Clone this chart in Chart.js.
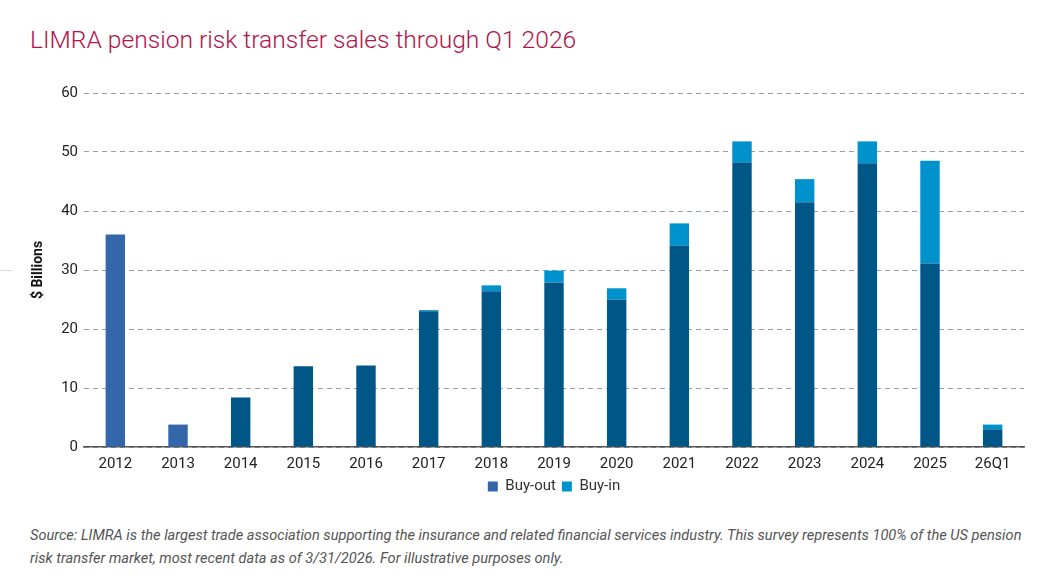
<!DOCTYPE html>
<html>
<head>
<meta charset="utf-8">
<script src="https://cdn.jsdelivr.net/npm/chart.js@4.4.1/dist/chart.umd.min.js"></script>
<style>
    body { margin: 0; background: #fff; width: 1051px; height: 585px; overflow: hidden; position: relative; font-family: Roboto, "Noto Sans", sans-serif; }
    #title { position: absolute; left: 30px; top: 25px; font-size: 24.6px; font-weight: 300; color: #b3124b; white-space: nowrap; }
    #chartBox { position: absolute; left: 0; top: 78px; width: 1051px; height: 426px; }
    #source { position: absolute; left: 30px; top: 524px; width: 998px; font-size: 14.6px; line-height: 23px; color: #555; font-style: italic; }
    #tick { position: absolute; left: 0; top: 270px; width: 13px; height: 1px; background: #ddd; }
</style>
</head>
<body>
<div id="title">LIMRA pension risk transfer sales through Q1 2026</div>
<div id="tick"></div>
<div id="chartBox"><canvas id="prtChart"></canvas></div>
<div id="source">Source: LIMRA is the largest trade association supporting the insurance and related financial services industry. This survey represents 100% of the US pension risk transfer market, most recent data as of 3/31/2026. For illustrative purposes only.</div>
<script>
const years = ['2012', '2013', '2014', '2015', '2016', '2017', '2018', '2019', '2020', '2021', '2022', '2023', '2024', '2025', '26Q1'];
const buyOut = [36.0, 3.8, 8.4, 13.7, 13.8, 23.0, 26.4, 27.9, 25.0, 34.1, 48.2, 41.5, 48.1, 31.1, 3.0];
const buyIn = [0, 0, 0, 0, 0, 0.2, 1.0, 2.0, 1.9, 3.8, 3.6, 3.9, 3.7, 17.4, 0.8];
const yTicks = [0, 10, 20, 30, 40, 50, 60];

// older years are drawn in the lighter buy-out blue
const lightBuyOut = '#3467a9';
const darkBuyOut = '#005686';
const buyInColor = '#0092cc';

document.addEventListener('DOMContentLoaded', function() {
    const ctx = document.getElementById('prtChart').getContext('2d');
    new Chart(ctx, {
        type: 'bar',
        data: {
            labels: years,
            datasets: [{
                label: 'Buy-out',
                data: buyOut,
                backgroundColor: function(c) {
                    if (c.dataIndex === undefined || c.dataIndex < 2) return lightBuyOut;
                    return darkBuyOut;
                },
                barPercentage: 0.31,
                categoryPercentage: 1
            }, {
                label: 'Buy-in',
                data: buyIn,
                backgroundColor: buyInColor,
                barPercentage: 0.31,
                categoryPercentage: 1
            }]
        },
        options: {
            responsive: true,
            maintainAspectRatio: false,
            animation: false,
            layout: { padding: { left: 30, right: 27, top: 8, bottom: 0 } },
            plugins: {
                tooltip: { enabled: false },
                legend: {
                    position: 'bottom',
                    fullSize: false,
                    labels: {
                        boxWidth: 10,
                        boxHeight: 10,
                        padding: 6,
                        color: '#333',
                        font: { family: 'Roboto', size: 15 }
                    }
                }
            },
            scales: {
                x: {
                    stacked: true,
                    grid: { display: false },
                    border: { display: true, color: '#555', width: 1.5 },
                    ticks: { color: '#222', font: { family: 'Roboto', size: 15 }, padding: 0 }
                },
                y: {
                    stacked: true,
                    min: 0,
                    max: 60,
                    afterBuildTicks: function(scale) {
                        scale.ticks = yTicks.map(v => ({ value: v }));
                    },
                    afterFit: function(scale) { scale.width = 54; },
                    grid: { color: '#95a2a8', lineWidth: 1, drawTicks: false },
                    border: { display: false, dash: [5, 4] },
                    ticks: { color: '#222', font: { family: 'Roboto', size: 15 }, padding: 6 },
                    title: {
                        display: true,
                        text: '$ Billions',
                        color: '#111',
                        font: { family: 'Roboto', size: 14, weight: 'bold' },
                        padding: { top: 0, bottom: 0 }
                    }
                }
            }
        }
    });
});
</script>
</body>
</html>
